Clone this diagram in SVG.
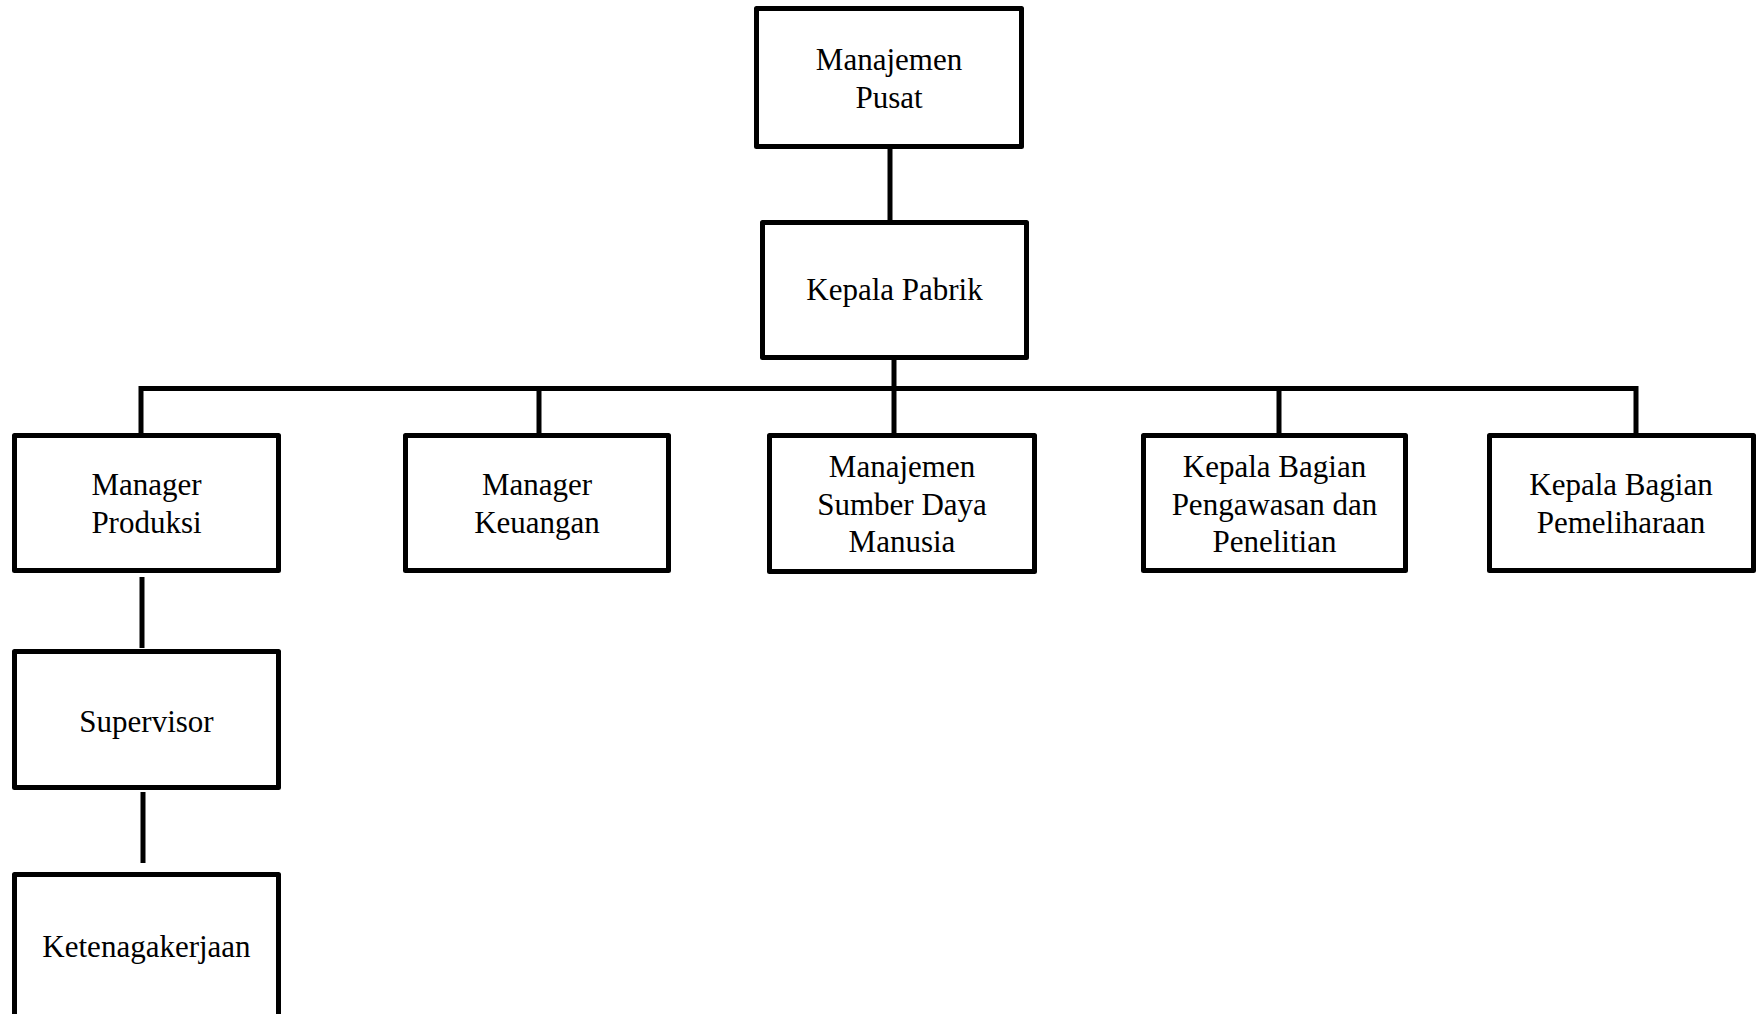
<svg xmlns="http://www.w3.org/2000/svg" width="1760" height="1014" viewBox="0 0 1760 1014">
<style>
.box{fill:#fff;stroke:#000;stroke-width:5;stroke-linejoin:round}
.ln{fill:none;stroke:#000;stroke-width:5;stroke-linejoin:miter;stroke-linecap:butt}
text{font-family:"Liberation Serif","Times New Roman",serif;font-size:31px;fill:#000;text-anchor:middle}
</style>
<rect width="1760" height="1014" fill="#fff"/>
<g id="connectors">
<path class="ln" d="M890 149V221"/>
<path class="ln" d="M894 360V433"/>
<path class="ln" d="M141 433V388.5H1636V433"/>
<path class="ln" d="M539 388.5V433"/>
<path class="ln" d="M1279 388.5V433"/>
<path class="ln" d="M142 577V648"/>
<path class="ln" d="M143 792V863"/>
</g>
<g id="manajemen-pusat"><rect class="box" x="756.5" y="8.5" width="265" height="138"/><text x="889" y="70">Manajemen</text><text x="889" y="108">Pusat</text></g>
<g id="kepala-pabrik"><rect class="box" x="762.5" y="222.5" width="264" height="135"/><text x="894.5" y="300">Kepala Pabrik</text></g>
<g id="manager-produksi"><rect class="box" x="14.5" y="435.5" width="264" height="135"/><text x="146.5" y="495">Manager</text><text x="146.5" y="533">Produksi</text></g>
<g id="manager-keuangan"><rect class="box" x="405.5" y="435.5" width="263" height="135"/><text x="537" y="495">Manager</text><text x="537" y="533">Keuangan</text></g>
<g id="msdm"><rect class="box" x="769.5" y="435.5" width="265" height="136"/><text x="902" y="477">Manajemen</text><text x="902" y="515">Sumber Daya</text><text x="902" y="552">Manusia</text></g>
<g id="kepala-bagian-pengawasan"><rect class="box" x="1143.5" y="435.5" width="262" height="135"/><text x="1274.5" y="477">Kepala Bagian</text><text x="1274.5" y="515">Pengawasan dan</text><text x="1274.5" y="552">Penelitian</text></g>
<g id="kepala-bagian-pemeliharaan"><rect class="box" x="1489.5" y="435.5" width="264" height="135"/><text x="1621" y="495">Kepala Bagian</text><text x="1621" y="533">Pemeliharaan</text></g>
<g id="supervisor"><rect class="box" x="14.5" y="651.5" width="264" height="136"/><text x="146.5" y="732">Supervisor</text></g>
<g id="ketenagakerjaan"><rect class="box" x="14.5" y="874.5" width="264" height="160"/><text x="146.5" y="957">Ketenagakerjaan</text></g>
</svg>
